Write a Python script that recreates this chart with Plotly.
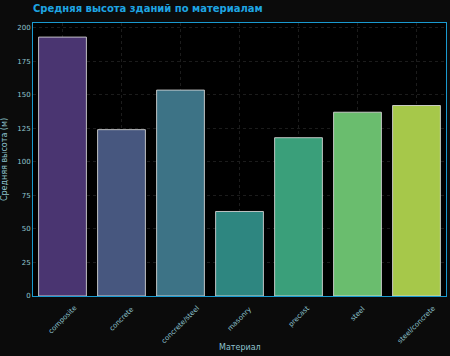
import plotly.graph_objects as go

materials = ["composite", "concrete", "concrete/steel", "masonry", "precast", "steel", "steel/concrete"]
avg_height = [193.0, 124.0, 153.5, 63.0, 118.0, 137.0, 142.0]
bar_colors = ["#4a3571", "#47577f", "#3d7386", "#2e8680", "#3a9f7a", "#6abd6e", "#a6c84a"]
y_ticks = [0, 25, 50, 75, 100, 125, 150, 175, 200]

W, H = 450, 356
M = dict(l=33, r=4, t=23, b=60)
plot_h = H - M["t"] - M["b"]
label_color = "#8fc3cf"

fig = go.Figure(go.Bar(
    x=materials, y=avg_height,
    marker=dict(color=bar_colors, line=dict(color="rgba(220,220,220,0.85)", width=1)),
))

# category labels centred under each bar, rotated 45 degrees
for m in materials:
    fig.add_annotation(
        x=m, xref="x", y=0, yref="paper", yshift=-6,
        text=m, textangle=-45, showarrow=False,
        xanchor="center", yanchor="top",
        font=dict(family="DejaVu Sans", size=7, color=label_color),
    )
# x axis title
fig.add_annotation(
    x=0.5, xref="paper", y=-(347 - (H - M["b"])) / plot_h, yref="paper",
    text="Материал", showarrow=False, xanchor="center", yanchor="middle",
    font=dict(family="DejaVu Sans", size=8, color=label_color),
)

fig.update_layout(
    width=W, height=H,
    margin=M,
    paper_bgcolor="#0b0b0b", plot_bgcolor="#000000",
    bargap=0.19,
    showlegend=False,
    title=dict(text="<b>Средняя высота зданий по материалам</b>", x=33 / W, xanchor="left",
               y=1 - 8 / H, yanchor="middle",
               font=dict(family="DejaVu Sans", size=10, color="#1ea5e3")),
    xaxis=dict(
        showticklabels=False,
        showgrid=True, gridcolor="#1c1c1c", griddash="dot", gridwidth=1,
        showline=True, linecolor="#1a9ad0", linewidth=1, mirror=True,
        ticks="", zeroline=False, automargin=False,
    ),
    yaxis=dict(
        title=dict(text="Средняя высота (м)", font=dict(family="DejaVu Sans", size=8, color=label_color), standoff=8),
        range=[0, 203.5], tickvals=y_ticks,
        tickfont=dict(family="DejaVu Sans", size=7, color=label_color),
        showgrid=True, gridcolor="#1c1c1c", griddash="dot", gridwidth=1,
        showline=True, linecolor="#1a9ad0", linewidth=1, mirror=True,
        ticks="", zeroline=False, automargin=False,
    ),
)

fig.write_html(
    "out.html",
    config={"displayModeBar": False},
    post_script="document.body.style.margin='0';document.body.style.padding='0';document.body.style.overflow='hidden';document.body.style.background='#0b0b0b';",
)
